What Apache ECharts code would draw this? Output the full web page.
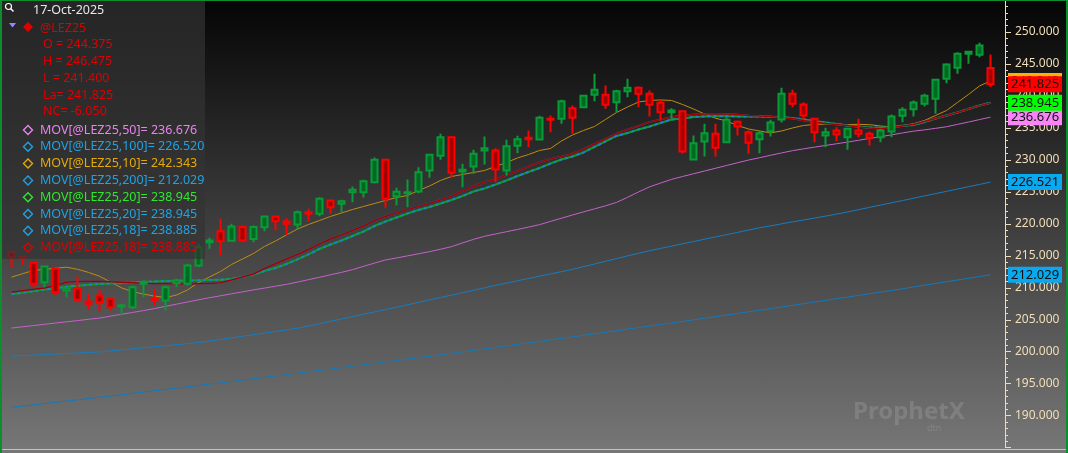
<!DOCTYPE html>
<html><head><meta charset="utf-8">
<script src="https://cdn.jsdelivr.net/npm/echarts@6/dist/echarts.min.js"></script>
<style>
html,body{margin:0;padding:0;width:1068px;height:453px;overflow:hidden;background:linear-gradient(to bottom,#050505 0%,#777777 100%);}
#c{width:1068px;height:453px;}
</style></head><body><div id="c"></div>
<script>
// ---- categories: 90 trading days ending 17-Oct-2025 ----
function buildDates(n){const out=[];let d=new Date(Date.UTC(2025,9,17));while(out.length<n){const w=d.getUTCDay();if(w!==0&&w!==6)out.unshift(d.toISOString().slice(0,10));d=new Date(d.getTime()-86400000);}return out;}
const categories = buildDates(90);

const opens = [215.57,214.89,213.91,210.88,212.97,209.58,209.94,207.86,208.80,208.28,
207.08,206.97,210.63,208.28,208.01,210.72,210.63,213.49,217.13,218.85,
217.35,219.51,217.63,219.48,221.15,220.37,219.90,221.82,221.57,223.65,
223.14,224.95,224.95,226.51,230.02,224.32,224.79,225.06,228.34,230.64,
233.55,228.19,228.97,231.47,231.47,228.34,232.21,233.46,233.19,236.43,
236.43,238.08,238.24,240.18,240.18,239.02,240.74,241.27,240.34,238.93,
237.46,237.62,230.06,232.88,234.08,232.77,235.96,234.33,233.24,234.49,
236.32,240.34,238.66,236.43,233.82,234.60,233.55,234.60,234.08,233.55,
234.44,236.90,237.93,238.77,239.55,242.68,244.40,246.59,246.43,244.375];
const closes = [214.79,214.66,210.63,213.33,209.31,209.94,208.12,207.50,207.75,206.97,
207.23,210.09,210.88,208.12,210.09,211.14,213.49,216.35,217.40,217.29,
219.59,217.40,219.51,221.15,220.41,220.01,221.82,221.57,223.92,222.60,
223.54,225.32,226.67,230.02,223.92,225.01,224.95,228.08,230.80,233.55,
227.98,228.45,230.95,231.83,228.50,232.14,233.24,233.24,236.58,236.27,
239.18,236.58,240.02,240.96,238.62,240.74,241.27,240.34,238.62,237.46,
237.72,231.31,232.61,234.18,231.89,236.27,235.22,232.67,234.18,235.85,
240.34,238.77,236.94,234.33,234.33,233.97,234.86,234.08,233.46,234.60,
236.79,237.83,238.98,240.02,242.53,244.92,246.59,246.90,247.875,241.825];
const lows = [213.22,213.64,210.09,210.09,208.80,208.53,207.75,206.56,206.34,206.45,
205.67,206.72,208.53,207.23,206.45,210.09,210.36,213.22,216.10,215.05,
217.24,217.13,217.13,218.85,218.96,218.18,219.12,220.37,221.20,221.57,
221.82,223.39,224.12,226.31,222.51,222.87,222.60,224.79,227.20,230.02,
227.20,225.73,227.83,229.28,226.51,227.56,231.05,231.99,233.03,234.33,
235.64,234.08,238.15,239.18,237.99,237.46,239.80,238.24,236.79,236.16,
236.16,230.95,229.91,230.53,230.53,232.61,233.82,230.95,231.05,233.66,
235.85,238.24,236.27,232.77,231.99,232.92,231.58,233.55,232.25,232.77,
233.55,235.90,236.79,238.35,237.21,241.99,243.46,245.03,246.06,241.40];
const highs = [215.83,215.05,214.03,213.49,213.10,210.13,211.77,209.06,209.69,208.53,
207.50,210.36,211.14,209.84,210.36,211.41,213.75,216.88,217.82,220.79,
220.01,219.74,219.74,221.31,221.31,220.88,222.09,222.35,224.17,223.81,
223.76,225.84,226.89,230.38,230.02,225.64,226.94,228.86,230.95,234.08,
233.71,229.39,231.58,233.66,231.83,233.14,233.77,234.60,236.90,236.94,
239.40,238.51,240.07,243.46,241.63,240.96,242.68,241.48,240.85,239.40,
238.08,237.62,233.82,235.64,235.64,236.68,236.16,234.60,234.60,236.27,
241.27,240.96,239.02,236.43,235.02,235.11,235.02,236.43,234.44,234.86,
237.10,238.24,239.29,240.34,242.68,245.12,246.84,246.90,248.31,246.475];

const ma10 = [211.66,212.19,212.71,212.88,213.05,213.22,212.88,212.41,211.80,210.91,
210.00,209.39,209.01,208.70,208.47,208.87,209.66,210.83,211.69,212.55,
213.64,214.50,215.36,216.46,217.32,218.26,219.19,219.90,220.52,221.15,
221.70,222.24,222.71,223.18,223.65,224.12,224.43,225.21,225.92,226.78,
227.40,227.72,228.03,228.34,228.97,229.59,230.30,230.84,231.47,231.78,
232.96,233.89,234.60,235.22,236.32,237.41,238.27,239.05,239.29,239.37,
239.29,238.66,237.96,237.18,236.51,236.08,235.38,234.83,234.52,234.21,
234.52,234.99,235.38,235.54,235.60,235.58,235.52,235.56,235.50,235.30,
235.14,235.38,235.65,236.16,236.94,237.72,238.98,240.23,241.56,242.343];
const ma18 = [209.33,209.55,209.77,209.98,210.36,210.86,210.98,211.03,211.03,210.95,
210.88,210.80,210.70,210.63,210.63,210.59,210.59,210.64,210.67,210.78,
211.22,211.69,212.16,213.02,213.75,214.50,215.21,215.99,216.85,217.63,
218.26,218.96,219.66,220.52,221.15,221.70,222.24,222.71,223.18,223.73,
224.35,225.14,225.84,226.54,226.93,227.64,228.26,228.97,229.62,230.14,
230.53,230.95,231.70,232.49,233.27,234.13,234.75,235.30,235.93,236.32,
236.71,236.94,237.10,237.18,237.21,237.18,237.10,236.94,236.86,236.79,
236.58,236.47,236.16,235.89,235.69,235.54,235.38,235.14,234.99,234.86,
235.07,235.30,235.54,236.00,236.47,236.94,237.41,237.96,238.48,238.885];
const ma20 = [208.98,209.22,209.47,209.72,209.92,210.16,210.31,210.47,210.59,210.67,
210.75,210.83,210.94,210.98,211.06,211.09,211.14,211.17,211.22,211.27,
211.38,211.69,212.08,212.63,213.10,213.72,214.43,215.21,216.07,216.77,
217.40,218.10,218.80,219.66,220.37,220.99,221.62,222.17,222.63,223.18,
223.73,224.35,225.06,225.53,226.15,226.78,227.48,228.11,228.73,229.44,
230.06,230.53,231.16,232.02,232.88,233.74,234.21,234.75,235.22,235.77,
236.32,236.47,236.71,236.80,236.82,236.81,236.80,236.78,236.77,236.74,
236.68,236.55,236.32,236.08,235.85,235.61,235.38,235.22,235.07,235.02,
235.14,235.33,235.46,235.93,236.47,236.94,237.41,237.96,238.51,238.945];
const ma50 = [203.70,203.90,204.09,204.29,204.48,204.68,204.87,205.07,205.26,205.56,
205.86,206.14,206.43,206.75,207.09,207.44,207.78,208.12,208.44,208.75,
209.06,209.36,209.67,209.95,210.25,210.53,210.89,211.27,211.64,212.03,
212.41,212.83,213.35,213.86,214.35,214.66,214.99,215.32,215.65,216.02,
216.43,217.01,217.57,218.05,218.41,218.77,219.12,219.48,219.87,220.38,
220.88,221.38,221.87,222.34,222.81,223.35,224.14,224.98,225.78,226.37,
226.95,227.40,227.83,228.26,228.69,229.12,229.55,229.97,230.33,230.72,
231.08,231.44,231.72,231.99,232.25,232.52,232.78,233.06,233.35,233.63,
233.91,234.21,234.49,234.69,234.93,235.18,235.55,235.92,236.30,236.676];
const ma100 = [199.31,199.39,199.47,199.55,199.64,199.72,199.80,199.88,199.97,200.13,
200.29,200.45,200.61,200.78,200.94,201.10,201.27,201.43,201.67,201.92,
202.17,202.42,202.67,202.92,203.17,203.42,203.67,204.01,204.38,204.75,
205.12,205.49,205.86,206.23,206.59,206.96,207.34,207.72,208.10,208.47,
208.85,209.23,209.61,209.99,210.37,210.73,211.09,211.45,211.81,212.16,
212.52,212.88,213.30,213.72,214.14,214.56,214.98,215.39,215.79,216.15,
216.51,216.87,217.23,217.59,217.95,218.30,218.66,219.02,219.38,219.67,
220.00,220.30,220.60,220.90,221.20,221.52,221.85,222.21,222.57,222.93,
223.29,223.64,224.00,224.36,224.72,225.08,225.44,225.80,226.16,226.52];
const ma200 = [191.29,191.49,191.69,191.89,192.09,192.29,192.48,192.68,192.88,193.08,
193.28,193.49,193.69,193.90,194.11,194.32,194.52,194.73,194.94,195.14,
195.35,195.57,195.78,196.00,196.21,196.43,196.65,196.86,197.08,197.29,
197.51,197.73,197.96,198.18,198.41,198.63,198.85,199.08,199.30,199.53,
199.75,199.98,200.22,200.45,200.68,200.92,201.15,201.38,201.61,201.85,
202.08,202.32,202.56,202.80,203.04,203.29,203.53,203.77,204.01,204.25,
204.49,204.74,204.99,205.24,205.49,205.74,205.99,206.24,206.49,206.74,
206.99,207.25,207.51,207.77,208.03,208.29,208.54,208.80,209.06,209.32,
209.58,209.85,210.12,210.40,210.67,210.94,211.21,211.49,211.76,212.029];

// legend texts
const symbolName = '@LEZ25';
const dateLabel = '17-Oct-2025';
const legendNames = ['MOV[@LEZ25,50]= ','MOV[@LEZ25,100]= ','MOV[@LEZ25,10]= ','MOV[@LEZ25,200]= ','MOV[@LEZ25,20]= ','MOV[@LEZ25,20]= ','MOV[@LEZ25,18]= ','MOV[@LEZ25,18]= '];
const legendValues = ['236.676','226.520','242.343','212.029','238.945','238.945','238.885','238.885'];
const legendColors = ['#e884ec','#1ea4e6','#e6aa08','#1ea4e6','#2ee82e','#1ea4e6','#1ea4e6','#e00000'];
// axis value tags (drawn in this order)
const tagValues = [212.029, 226.521, 236.676, 238.945, 242.343, 241.825];
const tagLabels = ['212.029','226.521','236.676','238.945','242.343','241.825'];
const tagColors = ['#0aa8ee','#0aa8ee','#f884f8','#00ff00','#ffb000','#ff0000'];

const FONT = '"Noto Sans", "DejaVu Sans", sans-serif';
const chart = echarts.init(document.getElementById('c'), null, {renderer:'canvas'});

const candleData = opens.map((o,i)=>[o, closes[i], lows[i], highs[i]]);
function lineSeries(name, data, color, width, type, z){
  return {name, type:'line', data, symbol:'none', showSymbol:false, z:z||2, silent:true,
    lineStyle:{color, width, type:type||'solid'}, emphasis:{disabled:true}};
}

chart.setOption({
  animation:false,
  backgroundColor:'transparent',
  grid:{left:6, right:72, top:0, height:447.65},
  xAxis:{type:'category', data:categories, boundaryGap:true, show:false},
  yAxis:{type:'value', position:'right', min:185, max:255, interval:5, offset:9, scale:true,
    axisLine:{show:true, lineStyle:{color:'#eedcb6', width:1}},
    axisTick:{show:true, length:6, lineStyle:{color:'#eedcb6'}},
    minorTick:{show:true, splitNumber:5, length:3, lineStyle:{color:'#eedcb6'}},
    splitLine:{show:false},
    axisLabel:{color:'#f2dfba', fontFamily:FONT, fontSize:12, margin:10, showMinLabel:false, showMaxLabel:false,
      formatter:v=>v.toFixed(3)}
  },
  series:[
    lineSeries('MA50', ma50, '#c462cc', 1),
    lineSeries('MA100', ma100, '#177dbf', 1),
    lineSeries('MA10', ma10, '#c08c12', 1),
    lineSeries('MA200', ma200, '#1479b9', 1),
    lineSeries('MA20', ma20, '#0c9c22', 2),
    lineSeries('MA20b', ma20, '#1a84c6', 2, [3,3]),
    lineSeries('MA18b', ma18, '#1a84c6', 1.5),
    lineSeries('MA18', ma18, '#a00000', 1.5),
    {name:'@LEZ25', type:'candlestick', data:candleData, barWidth:7, z:3, silent:true,
      itemStyle:{color:'#006a22', color0:'#a50000', borderColor:'#0a9a38', borderColor0:'#ff0000', borderWidth:2},
      emphasis:{disabled:true}}
  ]
});

// ---- overlays: legend panel, value tags, frame ----
const g = [];
const LF = '12.5px '+FONT;
// legend panel
g.push({type:'rect', z:100, shape:{x:0,y:0,width:205,height:259}, style:{fill:'rgba(51,51,51,0.70)'}});
g.push({type:'circle', z:101, shape:{cx:8.5,cy:6.5,r:3}, style:{fill:'none', stroke:'#ffffff', lineWidth:1.2}});
g.push({type:'line', z:101, shape:{x1:10.8,y1:8.8,x2:13.5,y2:11.5}, style:{stroke:'#ffffff', lineWidth:1.5}});
g.push({type:'text', z:101, x:33, y:10.5, style:{text:dateLabel, fill:'#e8e8e8', font:LF, verticalAlign:'middle'}});
g.push({type:'polygon', z:101, shape:{points:[[9,23],[16,23],[12.5,27.5]]}, style:{fill:'#8c8cff'}});
g.push({type:'polygon', z:101, shape:{points:[[28,22],[33,27],[28,32],[23,27]]}, style:{fill:'#e00000'}});
g.push({type:'text', z:101, x:40, y:28, style:{text:symbolName, fill:'#e00000', font:LF, verticalAlign:'middle'}});
const last = opens.length-1;
const ohlcLines = ['O = '+opens[last].toFixed(3), 'H = '+highs[last].toFixed(3), 'L = '+lows[last].toFixed(3),
  'La= '+closes[last].toFixed(3), 'NC= '+(closes[last]-closes[last-1]).toFixed(3)];
ohlcLines.forEach((t,k)=>g.push({type:'text', z:101, x:43, y:44.7+k*16.75, style:{text:t, fill:'#e00000', font:LF, verticalAlign:'middle'}}));
legendNames.forEach((n,k)=>{
  const cy = 130 + k*16.8, c = legendColors[k];
  g.push({type:'polygon', z:101, shape:{points:[[28,cy-4.5],[32.5,cy],[28,cy+4.5],[23.5,cy]]}, style:{fill:'none', stroke:c, lineWidth:1.4}});
  g.push({type:'text', z:101, x:40, y:cy, style:{text:n+legendValues[k], fill:c, font:LF, verticalAlign:'middle'}});
});
// value tags on the axis (each later tag fully covers earlier ones)
tagValues.forEach((v,k)=>{
  const py = chart.convertToPixel({yAxisIndex:0}, v);
  g.push({type:'rect', z:110+2*k, shape:{x:1008,y:py-8,width:54,height:16}, style:{fill:tagColors[k]}});
  g.push({type:'text', z:111+2*k, x:1011, y:py+0.5, style:{text:tagLabels[k], fill:'#111111', font:'13px '+FONT, verticalAlign:'middle'}});
});
// watermark
g.push({type:'text', z:5, x:853, y:412, style:{text:'ProphetX', fill:'rgba(255,255,255,0.13)', font:'bold 24px '+FONT, verticalAlign:'middle'}});
g.push({type:'text', z:5, x:927, y:428, style:{text:'dtn', fill:'rgba(255,255,255,0.13)', font:'9px '+FONT, verticalAlign:'middle'}});
// frame
g.push({type:'rect', z:130, shape:{x:0,y:449,width:1066,height:1}, style:{fill:'#c4c4c4'}});
g.push({type:'rect', z:130, shape:{x:0,y:0,width:2,height:453}, style:{fill:'#0c8e2e'}});
g.push({type:'rect', z:130, shape:{x:0,y:0,width:1068,height:1}, style:{fill:'#0c8e2e'}});
g.push({type:'rect', z:130, shape:{x:1066,y:0,width:2,height:453}, style:{fill:'#0c8e2e'}});
chart.setOption({graphic:{elements:g}});
</script></body></html>
